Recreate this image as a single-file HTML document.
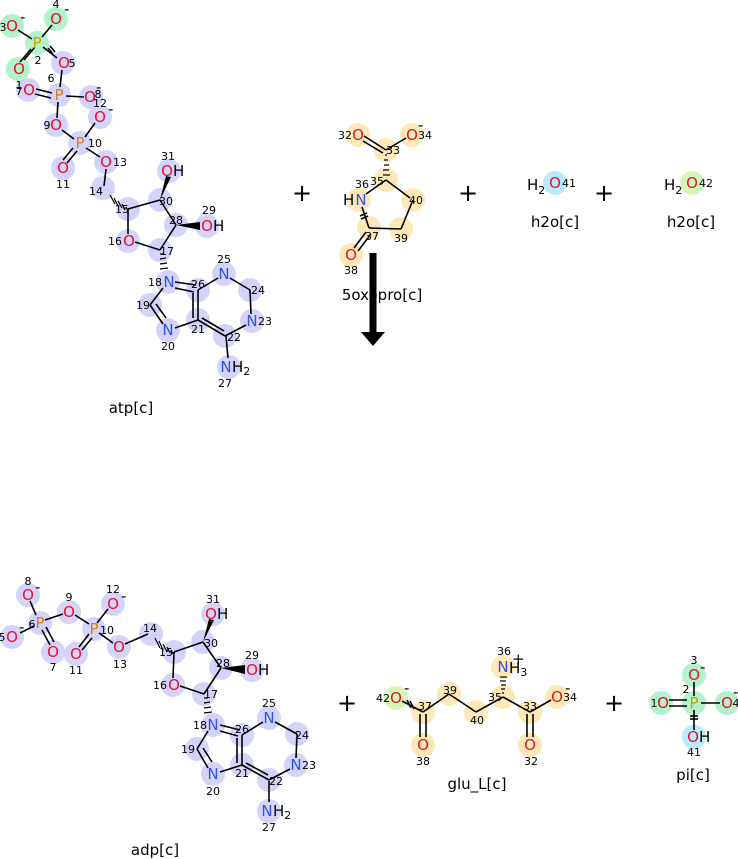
<!DOCTYPE html>
<html><head><meta charset="utf-8"><style>
html,body{margin:0;padding:0;background:#fff}
svg{display:block;font-family:"DejaVu Sans","Liberation Sans",sans-serif}
.b{fill:#d4d4fa}.g{fill:#b4f2cc}.y{fill:#fde9b8}.c{fill:#b8ecfa}.lg{fill:#d4f7b8}
.O{fill:#e8102a;font-size:15px;text-anchor:middle}
.N{fill:#3050f0;font-size:15px;text-anchor:middle}
.P{fill:#e07a10;font-size:15px;text-anchor:middle}
.Py{fill:#c8a000;font-size:15px;text-anchor:middle}
.n{fill:#000;font-size:11px;text-anchor:middle}
.k{fill:#000;font-size:15px}
.lab{fill:#000;font-size:15px;text-anchor:middle}
.pl{fill:#000;font-size:24px;text-anchor:middle}
line{stroke:#000;stroke-width:1.6}
g.h line{stroke-width:1.2}
</style></head><body>
<svg width="738" height="859" viewBox="0 0 738 859">
<!-- ATP highlights -->
<g>
<circle class="g" cx="12" cy="26" r="12"/><circle class="g" cx="56" cy="19" r="12"/><circle class="g" cx="37" cy="43" r="12"/><circle class="g" cx="18" cy="69" r="12"/>
<circle class="b" cx="63" cy="63" r="12"/><circle class="b" cx="59" cy="95" r="12"/><circle class="b" cx="28" cy="90" r="12"/><circle class="b" cx="91" cy="97" r="12"/>
<circle class="b" cx="56" cy="125" r="12"/><circle class="b" cx="100" cy="117" r="12"/><circle class="b" cx="80" cy="143" r="12"/><circle class="b" cx="63" cy="168" r="12"/><circle class="b" cx="106" cy="162" r="12"/>
<circle class="b" cx="103" cy="188" r="12"/><circle class="b" cx="128" cy="209" r="12"/><circle class="b" cx="160" cy="200" r="12"/><circle class="b" cx="176" cy="225" r="12"/><circle class="b" cx="160" cy="250" r="12"/><circle class="b" cx="128" cy="241" r="12"/>
<circle class="b" cx="169" cy="171" r="12"/><circle class="b" cx="207" cy="226" r="12"/><circle class="b" cx="168" cy="282" r="12"/><circle class="b" cx="198" cy="290" r="12"/><circle class="b" cx="224" cy="274" r="12"/><circle class="b" cx="250" cy="290" r="12"/><circle class="b" cx="252" cy="321" r="12"/><circle class="b" cx="225" cy="336" r="12"/><circle class="b" cx="198" cy="320" r="12"/><circle class="b" cx="168" cy="330" r="12"/><circle class="b" cx="150" cy="305" r="12"/><circle class="b" cx="229" cy="367" r="12"/>
</g>
<g>
<line x1="18" y1="30" x2="32" y2="39"/><line x1="52" y1="25" x2="42" y2="37"/><line x1="31" y1="49" x2="20" y2="62"/><line x1="35" y1="47" x2="24" y2="60"/><line x1="43" y1="47" x2="57" y2="58"/>
<line x1="48" y1="48" x2="53" y2="54"/><line x1="50" y1="46" x2="55" y2="52"/>
<line x1="62" y1="70" x2="60" y2="87"/><line x1="52" y1="93" x2="36" y2="89"/><line x1="51" y1="98" x2="35" y2="94"/><line x1="66" y1="96" x2="84" y2="97"/><line x1="58" y1="102" x2="57" y2="118"/>
<line x1="62" y1="130" x2="74" y2="139"/><line x1="85" y1="137" x2="95" y2="123"/><line x1="73" y1="148" x2="63" y2="160"/><line x1="77" y1="151" x2="67" y2="163"/><line x1="86" y1="148" x2="100" y2="157"/>
<line x1="106" y1="169" x2="104" y2="186"/>
<line x1="128" y1="209" x2="160" y2="200"/><line x1="160" y1="200" x2="176" y2="225"/><line x1="176" y1="225" x2="160" y2="250"/><line x1="160" y1="250" x2="135" y2="242"/><line x1="128" y1="234" x2="128" y2="209"/>
<line x1="175" y1="288" x2="194" y2="292"/><line x1="175" y1="282" x2="196" y2="285"/><line x1="163" y1="288" x2="150" y2="305"/><line x1="150" y1="305" x2="163" y2="324"/><line x1="156" y1="304" x2="166" y2="318"/>
<line x1="175" y1="328" x2="198" y2="320"/><line x1="198" y1="320" x2="198" y2="290"/><line x1="193" y1="318" x2="193" y2="293"/><line x1="198" y1="290" x2="218" y2="278"/><line x1="230" y1="278" x2="250" y2="290"/><line x1="250" y1="290" x2="251" y2="314"/>
<line x1="246" y1="325" x2="225" y2="336"/><line x1="225" y1="336" x2="198" y2="320"/><line x1="224" y1="331" x2="202" y2="318"/><line x1="226" y1="336" x2="228" y2="358"/>
<polygon points="160,200 166,176 171,177"/><polygon points="176,225 200,222 200,230"/>
<g class="h"><line x1="126" y1="207" x2="128" y2="211"/><line x1="122" y1="204" x2="125" y2="210"/><line x1="118" y1="201" x2="122" y2="208"/><line x1="114" y1="198" x2="118" y2="206"/><line x1="110" y1="195" x2="115" y2="204"/>
<line x1="160" y1="254" x2="164" y2="254"/><line x1="160" y1="259" x2="166" y2="258"/><line x1="160" y1="264" x2="167" y2="263"/><line x1="160" y1="269" x2="168" y2="268"/></g>
</g>
<g>
<text class="O" x="12" y="31">O</text><text class="k" x="20" y="22" font-size="11">-</text><text class="n" x="3" y="31">3</text>
<text class="O" x="56" y="24">O</text><text class="k" x="64" y="14" font-size="11">-</text><text class="n" x="56" y="8">4</text>
<text class="Py" x="37" y="48">P</text><text class="n" x="38" y="64">2</text>
<text class="O" x="19" y="74">O</text>
<text class="O" x="64" y="68">O</text><text class="n" x="72" y="67">5</text>
<text class="P" x="59" y="100">P</text><text class="n" x="51" y="82">6</text>
<text class="O" x="29" y="95">O</text><text class="n" x="19" y="89">1</text><text class="n" x="19" y="95">7</text>
<text class="O" x="90" y="102">O</text><text class="n" x="98" y="98">8</text><text class="k" x="96" y="92" font-size="11">-</text>
<text class="O" x="56" y="130">O</text><text class="n" x="47" y="129">9</text>
<text class="O" x="100" y="122">O</text><text class="n" x="100" y="107">12</text><text class="k" x="108" y="114" font-size="11">-</text>
<text class="P" x="80" y="148">P</text><text class="n" x="95" y="147">10</text>
<text class="O" x="63" y="173">O</text><text class="n" x="63" y="188">11</text>
<text class="O" x="106" y="167">O</text><text class="n" x="120" y="166">13</text>
<text class="n" x="96" y="195">14</text><text class="n" x="122" y="213">15</text><text class="n" x="166" y="205">30</text><text class="n" x="176" y="224">28</text><text class="n" x="167" y="255">17</text>
<text class="O" x="129" y="246">O</text><text class="n" x="115" y="245">16</text>
<text class="O" x="167" y="176">O</text><text class="k" x="173" y="176">H</text><text class="n" x="168" y="160">31</text>
<text class="O" x="207" y="231">O</text><text class="k" x="213" y="231">H</text><text class="n" x="209" y="214">29</text>
<text class="N" x="169" y="287">N</text><text class="n" x="155" y="286">18</text>
<text class="n" x="198" y="288">26</text><text class="N" x="224" y="279">N</text><text class="n" x="224" y="263">25</text>
<text class="n" x="258" y="294">24</text><text class="N" x="252" y="326">N</text><text class="n" x="265" y="325">23</text>
<text class="n" x="234" y="341">22</text><text class="n" x="198" y="333">21</text>
<text class="N" x="168" y="335">N</text><text class="n" x="168" y="350">20</text><text class="n" x="143" y="309">19</text>
<text class="N" x="226" y="372">N</text><text class="k" x="232" y="372">H<tspan font-size="11" dy="3">2</tspan></text><text class="n" x="225" y="387">27</text>
<text class="lab" x="131" y="413">atp[c]</text>
</g>
<text class="pl" x="302" y="201">+</text><text class="pl" x="468" y="201">+</text><text class="pl" x="604" y="201">+</text>
<!-- 5oxopro -->
<circle class="y" cx="358" cy="135" r="12"/><circle class="y" cx="412" cy="135" r="12"/><circle class="y" cx="386" cy="150" r="12"/><circle class="y" cx="386" cy="180" r="12"/><circle class="y" cx="359" cy="200" r="12"/><circle class="y" cx="413" cy="200" r="12"/><circle class="y" cx="369" cy="228" r="12"/><circle class="y" cx="401" cy="229" r="12"/><circle class="y" cx="351" cy="255" r="12"/>
<line x1="364" y1="136" x2="386" y2="150"/><line x1="363" y1="141" x2="383" y2="153"/><line x1="406" y1="138" x2="386" y2="150"/>
<g class="h"><line x1="385" y1="155" x2="387" y2="155"/><line x1="384" y1="160" x2="388" y2="160"/><line x1="384" y1="165" x2="389" y2="165"/><line x1="383" y1="170" x2="389" y2="170"/><line x1="383" y1="175" x2="390" y2="175"/></g>
<line x1="386" y1="180" x2="366" y2="194"/><line x1="386" y1="180" x2="410" y2="198"/><line x1="413" y1="200" x2="401" y2="229"/><line x1="401" y1="229" x2="369" y2="228"/><line x1="369" y1="228" x2="362" y2="207"/>
<line x1="360" y1="216" x2="367" y2="213"/><line x1="361" y1="219" x2="368" y2="216"/>
<line x1="366" y1="232" x2="354" y2="248"/><line x1="371" y1="234" x2="358" y2="251"/>
<text class="O" x="358" y="140">O</text><text class="n" x="345" y="139">32</text>
<text class="O" x="412" y="140">O</text><text class="n" x="425" y="139">34</text><text class="k" x="418" y="130" font-size="11">-</text>
<text class="n" x="393" y="154">33</text><text class="n" x="377" y="185">35</text><text class="n" x="362" y="188">36</text>
<text class="k" x="343" y="205">H</text><text class="N" x="361" y="205">N</text>
<text class="n" x="416" y="204">40</text><text class="n" x="372" y="240">37</text><text class="n" x="401" y="242">39</text>
<text class="O" x="351" y="260">O</text><text class="n" x="351" y="274">38</text>
<rect x="369.5" y="253" width="7" height="80" fill="#000"/><polygon points="361,332 385,332 373,346"/>
<text class="lab" x="382" y="300">5oxopro[c]</text>
<circle class="c" cx="555" cy="183" r="12"/>
<text class="k" x="527" y="190">H<tspan font-size="11" dy="4">2</tspan></text><text class="O" x="555" y="188">O</text><text class="n" x="569" y="187">41</text>
<text class="lab" x="555" y="227">h2o[c]</text>
<circle class="lg" cx="692" cy="183" r="12"/>
<text class="k" x="664" y="190">H<tspan font-size="11" dy="4">2</tspan></text><text class="O" x="692" y="188">O</text><text class="n" x="706" y="187">42</text>
<text class="lab" x="691" y="227">h2o[c]</text>
<!-- ADP -->
<g>
<circle class="b" cx="28" cy="595" r="12"/><circle class="b" cx="40" cy="623" r="12"/><circle class="b" cx="12" cy="637" r="12"/><circle class="b" cx="53" cy="652" r="12"/><circle class="b" cx="69" cy="612" r="12"/><circle class="b" cx="94" cy="629" r="12"/><circle class="b" cx="113" cy="604" r="12"/><circle class="b" cx="76" cy="654" r="12"/><circle class="b" cx="119" cy="647" r="12"/>
<circle class="b" cx="151" cy="634" r="12"/><circle class="b" cx="174" cy="652" r="12"/><circle class="b" cx="203" cy="642" r="12"/><circle class="b" cx="221" cy="668" r="12"/><circle class="b" cx="204" cy="694" r="12"/><circle class="b" cx="173" cy="685" r="12"/><circle class="b" cx="213" cy="614" r="12"/><circle class="b" cx="252" cy="670" r="12"/>
<circle class="b" cx="213" cy="725" r="12"/><circle class="b" cx="242" cy="735" r="12"/><circle class="b" cx="269" cy="718" r="12"/><circle class="b" cx="297" cy="734" r="12"/><circle class="b" cx="296" cy="765" r="12"/><circle class="b" cx="269" cy="780" r="12"/><circle class="b" cx="242" cy="765" r="12"/><circle class="b" cx="213" cy="774" r="12"/><circle class="b" cx="197" cy="749" r="12"/><circle class="b" cx="269" cy="811" r="12"/>
</g>
<g>
<line x1="30" y1="601" x2="36" y2="615"/><line x1="34" y1="626" x2="20" y2="633"/><line x1="42" y1="630" x2="50" y2="645"/><line x1="46" y1="627" x2="54" y2="642"/><line x1="45" y1="620" x2="63" y2="614"/>
<line x1="75" y1="615" x2="89" y2="624"/><line x1="97" y1="623" x2="108" y2="609"/><line x1="89" y1="634" x2="79" y2="647"/><line x1="92" y1="638" x2="82" y2="650"/><line x1="99" y1="633" x2="113" y2="643"/>
<line x1="125" y1="644" x2="148" y2="634"/>
<line x1="174" y1="652" x2="203" y2="642"/><line x1="203" y1="642" x2="221" y2="668"/><line x1="221" y1="668" x2="204" y2="694"/><line x1="204" y1="694" x2="180" y2="686"/><line x1="173" y1="678" x2="174" y2="652"/>
<polygon points="203,642 209,619 214,620"/><polygon points="221,668 245,665 245,674"/>
<g class="h"><line x1="171" y1="650" x2="173" y2="654"/><line x1="167" y1="647" x2="170" y2="653"/><line x1="163" y1="644" x2="167" y2="652"/><line x1="159" y1="641" x2="163" y2="650"/><line x1="155" y1="638" x2="160" y2="648"/>
<line x1="204" y1="698" x2="208" y2="698"/><line x1="204" y1="703" x2="210" y2="702"/><line x1="204" y1="708" x2="211" y2="707"/><line x1="204" y1="713" x2="212" y2="712"/></g>
<line x1="220" y1="731" x2="238" y2="736"/><line x1="220" y1="725" x2="240" y2="730"/><line x1="208" y1="731" x2="197" y2="749"/><line x1="197" y1="749" x2="208" y2="768"/><line x1="203" y1="748" x2="212" y2="762"/>
<line x1="220" y1="772" x2="242" y2="765"/><line x1="242" y1="765" x2="242" y2="735"/><line x1="237" y1="763" x2="237" y2="738"/><line x1="242" y1="735" x2="263" y2="722"/><line x1="275" y1="722" x2="297" y2="734"/><line x1="297" y1="734" x2="296" y2="758"/>
<line x1="290" y1="769" x2="269" y2="780"/><line x1="269" y1="780" x2="242" y2="765"/><line x1="268" y1="775" x2="246" y2="763"/><line x1="269" y1="781" x2="269" y2="802"/>
</g>
<g>
<text class="O" x="28" y="600">O</text><text class="n" x="28" y="585">8</text><text class="k" x="35" y="592" font-size="11">-</text>
<text class="P" x="40" y="628">P</text><text class="n" x="32" y="628">6</text>
<text class="O" x="12" y="642">O</text><text class="n" x="2" y="641">5</text><text class="k" x="19" y="632" font-size="11">-</text>
<text class="O" x="53" y="657">O</text><text class="n" x="53" y="671">7</text>
<text class="O" x="69" y="617">O</text><text class="n" x="69" y="601">9</text>
<text class="P" x="94" y="634">P</text><text class="n" x="107" y="634">10</text>
<text class="O" x="113" y="609">O</text><text class="n" x="113" y="593">12</text><text class="k" x="121" y="601" font-size="11">-</text>
<text class="O" x="76" y="659">O</text><text class="n" x="76" y="674">11</text>
<text class="O" x="119" y="652">O</text><text class="n" x="120" y="668">13</text>
<text class="n" x="150" y="632">14</text><text class="n" x="166" y="656">15</text><text class="n" x="211" y="647">30</text><text class="n" x="223" y="667">28</text><text class="n" x="211" y="698">17</text>
<text class="O" x="174" y="690">O</text><text class="n" x="160" y="689">16</text>
<text class="O" x="211" y="619">O</text><text class="k" x="217" y="619">H</text><text class="n" x="213" y="603">31</text>
<text class="O" x="252" y="675">O</text><text class="k" x="258" y="675">H</text><text class="n" x="252" y="659">29</text>
<text class="N" x="213" y="730">N</text><text class="n" x="200" y="729">18</text>
<text class="n" x="242" y="733">26</text><text class="N" x="269" y="723">N</text><text class="n" x="269" y="707">25</text>
<text class="n" x="302" y="739">24</text><text class="N" x="296" y="770">N</text><text class="n" x="309" y="769">23</text>
<text class="n" x="276" y="785">22</text><text class="n" x="242" y="777">21</text>
<text class="N" x="213" y="779">N</text><text class="n" x="213" y="795">20</text><text class="n" x="188" y="753">19</text>
<text class="N" x="267" y="816">N</text><text class="k" x="273" y="816">H<tspan font-size="11" dy="3">2</tspan></text><text class="n" x="269" y="831">27</text>
<text class="lab" x="155" y="855">adp[c]</text>
</g>
<text class="pl" x="347" y="711">+</text><text class="pl" x="614" y="711">+</text>
<!-- glu -->
<circle class="lg" cx="396" cy="698" r="12"/><circle class="y" cx="423" cy="712" r="12"/><circle class="y" cx="423" cy="745" r="12"/><circle class="y" cx="449" cy="694" r="12"/><circle class="y" cx="476" cy="712" r="12"/><circle class="y" cx="503" cy="697" r="12"/><circle class="y" cx="503" cy="667" r="12"/><circle class="y" cx="530" cy="712" r="12"/><circle class="y" cx="530" cy="745" r="12"/><circle class="y" cx="557" cy="697" r="12"/>
<line x1="402" y1="701" x2="423" y2="712"/><line x1="407" y1="700" x2="411" y2="708"/><line x1="410" y1="701" x2="414" y2="709"/>
<line x1="420" y1="714" x2="420" y2="737"/><line x1="426" y1="714" x2="426" y2="737"/>
<line x1="423" y1="712" x2="449" y2="694"/><line x1="449" y1="694" x2="476" y2="712"/><line x1="476" y1="712" x2="503" y2="697"/><line x1="503" y1="697" x2="530" y2="712"/><line x1="530" y1="712" x2="551" y2="700"/>
<line x1="527" y1="714" x2="527" y2="737"/><line x1="533" y1="714" x2="533" y2="737"/>
<g class="h"><line x1="502" y1="693" x2="504" y2="693"/><line x1="501" y1="689" x2="505" y2="689"/><line x1="501" y1="685" x2="506" y2="685"/><line x1="500" y1="681" x2="506" y2="681"/><line x1="500" y1="677" x2="507" y2="677"/></g>
<text class="O" x="396" y="703">O</text><text class="n" x="383" y="702">42</text><text class="k" x="404" y="693" font-size="11">-</text>
<text class="n" x="425" y="710">37</text><text class="O" x="423" y="750">O</text><text class="n" x="423" y="765">38</text>
<text class="n" x="450" y="694">39</text><text class="n" x="477" y="724">40</text><text class="n" x="495" y="701">35</text>
<text class="N" x="503" y="672">N</text><text class="k" x="509" y="673">H<tspan font-size="11" dy="3">3</tspan></text><text class="n" x="504" y="655">36</text><text class="k" x="512" y="664" font-size="12">+</text>
<text class="n" x="530" y="710">33</text><text class="O" x="530" y="750">O</text><text class="n" x="531" y="765">32</text>
<text class="O" x="557" y="702">O</text><text class="n" x="570" y="701">34</text><text class="k" x="565" y="693" font-size="11">-</text>
<text class="lab" x="477" y="789">glu_L[c]</text>
<!-- pi -->
<circle class="g" cx="694" cy="675" r="12"/><circle class="g" cx="694" cy="703" r="12"/><circle class="g" cx="661" cy="703" r="12"/><circle class="g" cx="727" cy="703" r="12"/><circle class="c" cx="694" cy="737" r="12"/>
<line x1="694" y1="682" x2="694" y2="696"/><line x1="669" y1="700" x2="687" y2="700"/><line x1="669" y1="706" x2="687" y2="706"/><line x1="701" y1="703" x2="720" y2="703"/><line x1="694" y1="710" x2="694" y2="730"/>
<line x1="690" y1="716" x2="698" y2="716"/><line x1="690" y1="719" x2="698" y2="719"/>
<text class="O" x="694" y="680">O</text><text class="n" x="694" y="664">3</text><text class="k" x="700" y="672" font-size="11">-</text>
<text class="Py" x="694" y="708">P</text><text class="n" x="686" y="693">2</text>
<text class="O" x="663" y="708">O</text><text class="n" x="654" y="707">1</text>
<text class="O" x="727" y="708">O</text><text class="n" x="736" y="707">4</text><text class="k" x="733" y="697" font-size="11">-</text>
<text class="O" x="693" y="742">O</text><text class="k" x="699" y="742">H</text><text class="n" x="694" y="756">41</text>
<text class="lab" x="693" y="780">pi[c]</text>
</svg>
</body></html>
